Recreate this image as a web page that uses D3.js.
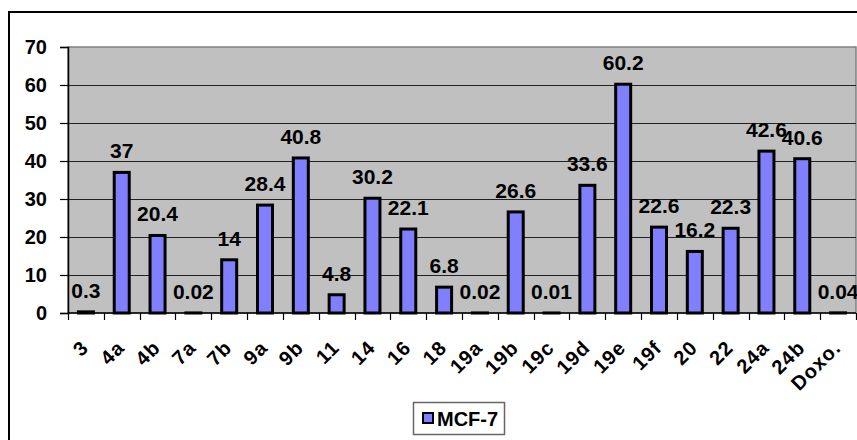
<!DOCTYPE html>
<html>
<head>
<meta charset="utf-8">
<script src="https://cdn.jsdelivr.net/npm/d3@7"></script>
<style>
  html, body { margin: 0; padding: 0; background: #fff; }
  svg { display: block; }
  text { font-family: "Liberation Sans", Arial, sans-serif; font-weight: bold; fill: #000; }
</style>
</head>
<body>
<svg id="chart" width="857" height="440"></svg>
<script>
const categories = ["3","4a","4b","7a","7b","9a","9b","11","14","16","18","19a","19b","19c","19d","19e","19f","20","22","24a","24b","Doxo."];
const values = [0.3,37,20.4,0.02,14,28.4,40.8,4.8,30.2,22.1,6.8,0.02,26.6,0.01,33.6,60.2,22.6,16.2,22.3,42.6,40.6,0.04];
const valueLabels = ["0.3","37","20.4","0.02","14","28.4","40.8","4.8","30.2","22.1","6.8","0.02","26.6","0.01","33.6","60.2","22.6","16.2","22.3","42.6","40.6","0.04"];
const yTicks = [0,10,20,30,40,50,60,70];
const seriesName = "MCF-7";

const svg = d3.select("#chart");
const plot = {left: 68, right: 856, top: 47, bottom: 313};

// outer chart border (extends beyond the picture on right and bottom)
svg.append("rect").attr("x", 9).attr("y", 12).attr("width", 900).attr("height", 500)
  .attr("fill", "none").attr("stroke", "#000").attr("stroke-width", 2);

const x = d3.scaleBand().domain(categories).range([plot.left, plot.right]);
const y = d3.scaleLinear().domain([0, 70]).range([plot.bottom, plot.top]);

// plot area
svg.append("rect").attr("x", plot.left).attr("y", plot.top)
  .attr("width", plot.right - plot.left).attr("height", plot.bottom - plot.top)
  .attr("fill", "#C0C0C0").attr("stroke", "#808080").attr("stroke-width", 1.5);

// gridlines
svg.append("g").selectAll("line").data(yTicks.filter(t => t > 0 && t < 70)).join("line")
  .attr("x1", plot.left).attr("x2", plot.right)
  .attr("y1", d => Math.round(y(d)) + 0.5).attr("y2", d => Math.round(y(d)) + 0.5)
  .attr("stroke", "#222").attr("stroke-width", 1);

// y axis
const yAxis = svg.append("g").attr("transform", `translate(${plot.left},0)`)
  .call(d3.axisLeft(y).tickValues(yTicks).tickSize(8).tickPadding(13));
yAxis.select(".domain").attr("stroke", "#000").attr("stroke-width", 1.5);
yAxis.selectAll(".tick line").attr("stroke", "#000").attr("stroke-width", 1.2);
yAxis.selectAll(".tick text").style("font-size", "20px").style("font-family", '"Liberation Sans", Arial, sans-serif').style("font-weight", "bold").attr("fill", "#000");

// x axis line + ticks at band boundaries
svg.append("line").attr("x1", plot.left).attr("x2", plot.right)
  .attr("y1", plot.bottom).attr("y2", plot.bottom).attr("stroke", "#000").attr("stroke-width", 1.5);
const boundaries = categories.map(c => x(c)).concat([plot.right]);
svg.append("g").selectAll("line").data(boundaries).join("line")
  .attr("x1", d => Math.round(d) + 0.5).attr("x2", d => Math.round(d) + 0.5)
  .attr("y1", plot.bottom).attr("y2", plot.bottom + 7)
  .attr("stroke", "#000").attr("stroke-width", 1.2);

// bars
const barW = 15;
svg.append("g").selectAll("rect").data(values).join("rect")
  .attr("x", (d, i) => x(categories[i]) + x.bandwidth() / 2 - barW / 2)
  .attr("y", d => y(d))
  .attr("width", barW)
  .attr("height", d => Math.max(0, y(0) - y(d)))
  .attr("fill", "#8080FF").attr("stroke", "#000").attr("stroke-width", 3);

// data labels
svg.append("g").selectAll("text").data(values).join("text")
  .attr("x", (d, i) => x(categories[i]) + x.bandwidth() / 2)
  .attr("y", d => y(d) - 14)
  .attr("text-anchor", "middle")
  .style("font-size", "21px")
  .text((d, i) => valueLabels[i]);

// x category labels rotated
svg.append("g").selectAll("text").data(categories).join("text")
  .attr("transform", d => `translate(${x(d) + x.bandwidth() / 2 + 4},349) rotate(-45)`)
  .attr("text-anchor", "end")
  .style("font-size", "20px")
  .style("letter-spacing", "1px")
  .text(d => d);

// legend
const lg = svg.append("g");
lg.append("rect").attr("x", 413.5).attr("y", 402.5).attr("width", 91).attr("height", 32)
  .attr("fill", "#fff").attr("stroke", "#666").attr("stroke-width", 1.5);
lg.append("rect").attr("x", 423).attr("y", 413).attr("width", 10).attr("height", 10)
  .attr("fill", "#8080FF").attr("stroke", "#000").attr("stroke-width", 2);
lg.append("text").attr("x", 437).attr("y", 426).style("font-size", "20px").text(seriesName);
</script>
</body>
</html>
